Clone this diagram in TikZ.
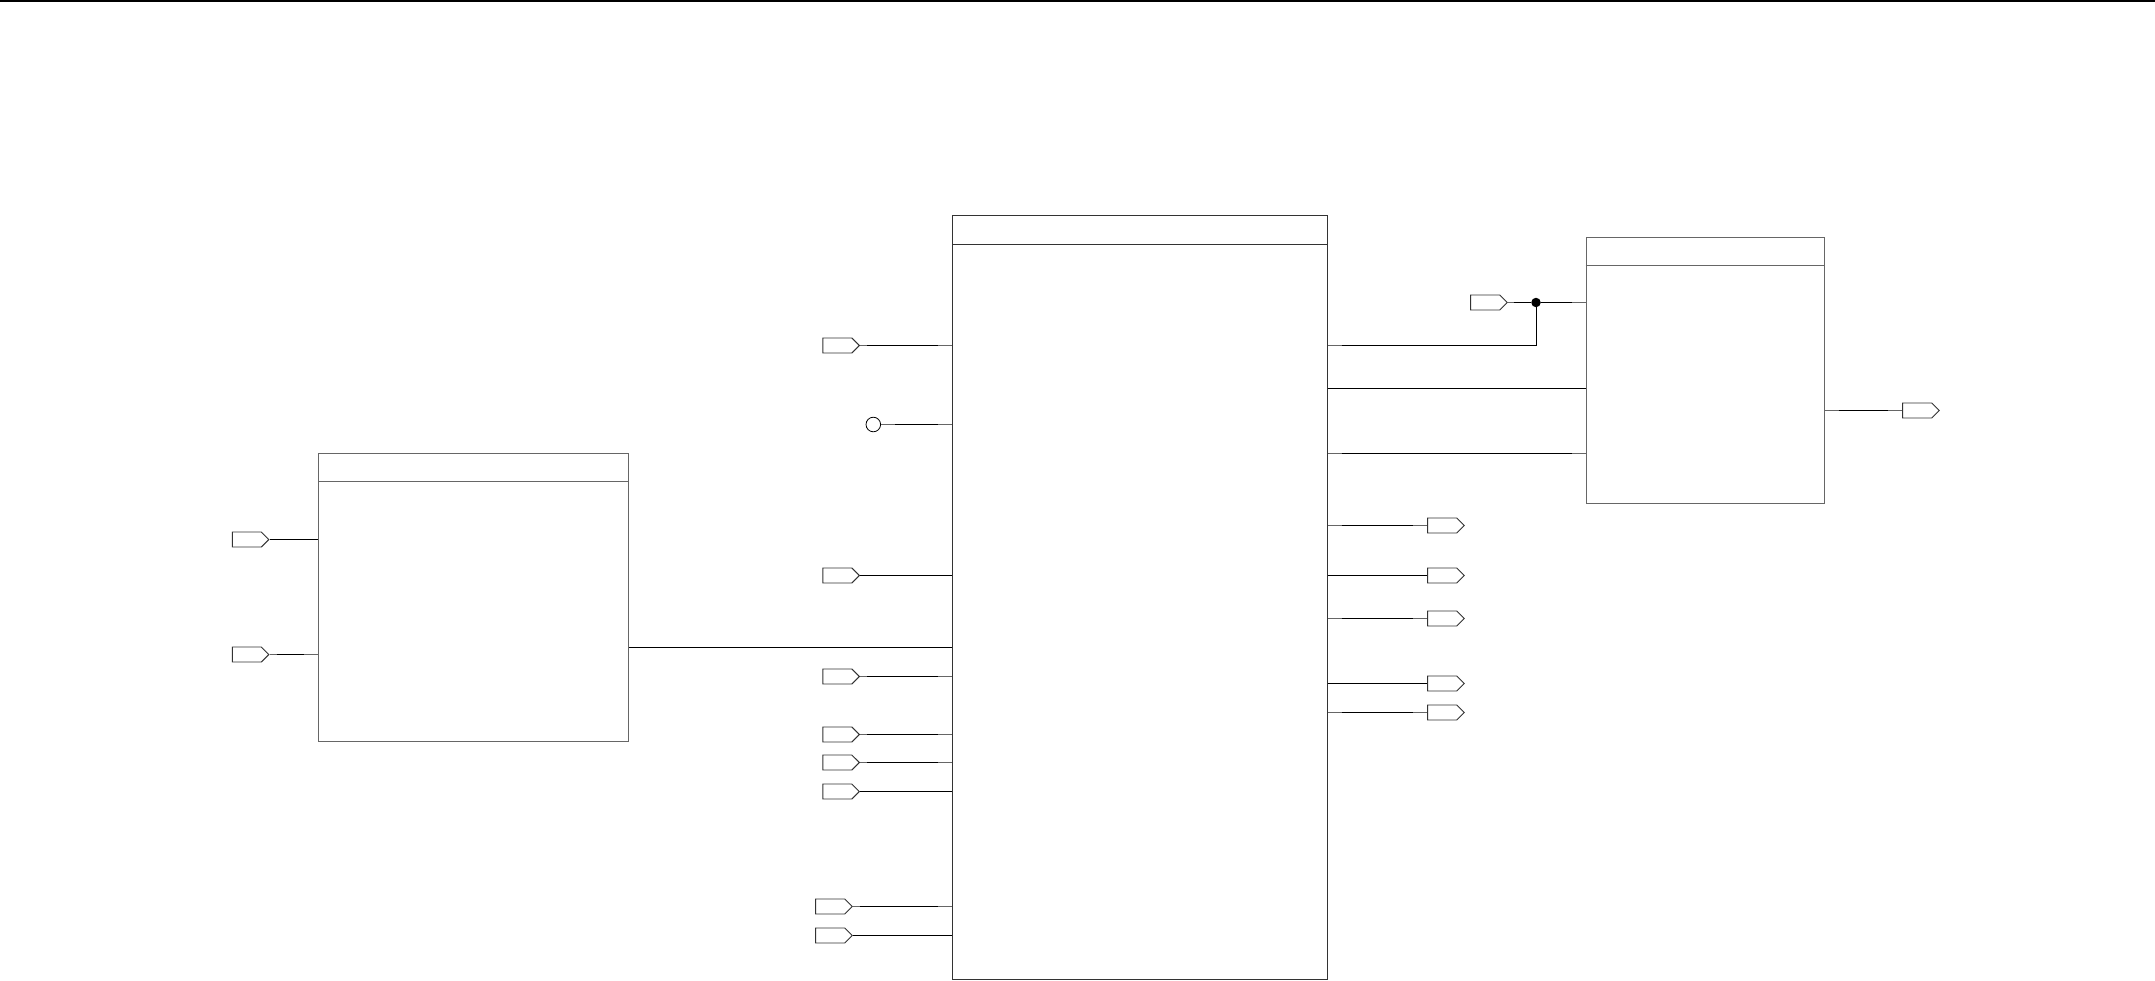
\documentclass[tikz,border=0pt]{standalone}
\usetikzlibrary{calc,shapes.symbols}

\tikzset{
  wire/.style={line width=1pt,black},
  stub/.style={line width=1pt,black!60},
  blockbox/.style={draw=black!60,line width=1pt,minimum width=#1,inner sep=0pt},
  tagbox/.style={draw=black!80,line width=0.9pt,signal,signal to=east,signal pointer angle=90,
    minimum width=36.5pt,minimum height=15pt,inner sep=0pt,anchor=east},
  opencirc/.style={draw,circle,line width=0.8pt,minimum size=14.6pt,inner sep=0pt},
  junction/.style={fill=black,circle,minimum size=9.5pt,inner sep=0pt}
}
% 両端が薄い配線
\newcommand{\stubwire}[4]{%
  \draw[stub] (#1)--(#2);
  \draw[wire,shorten <=#3,shorten >=#4] (#1)--(#2);}

\begin{document}
\begin{tikzpicture}[x=1pt,y=-1pt]
  \useasboundingbox (0,0) rectangle (2155,980);
  \coordinate (TL) at (0,1);
  \coordinate (TR) at (2155,1);
  % 上端
  \draw[line width=2pt] (TL)--(TR);
  % ブロック
  \node[blockbox=310pt,minimum height=288pt] (src) at (473.7,597.2) {};
  \node[blockbox=374.3pt,minimum height=764pt,draw=black!80] (main) at (1139.9,597.3) {};
  \node[blockbox=238pt,minimum height=266.5pt] (sink) at (1705,370.3) {};
  \draw[black!60,line width=1pt] ($(src.north west)+(0,29)$)--($(src.north east)+(0,29)$);
  \draw[black!80,line width=1pt] ($(main.north west)+(0,29.5)$)--($(main.north east)+(0,29.5)$);
  \draw[black!60,line width=1pt] ($(sink.north west)+(0,29)$)--($(sink.north east)+(0,29)$);
  % 左の入力
  \node[tagbox] (inA) at (269.5,539.5) {};
  \node[tagbox] (inB) at (269.5,654.5) {};
  \draw[wire] (inA.east)--(inA.east -| src.west);
  \stubwire{inB.east}{inB.east -| src.west}{7pt}{14pt}
  \draw[wire] (src.east |- 0,647.5)--(main.west |- 0,647.5);
  % 中央の入力
  \node[tagbox] (inC) at (860,345.5) {};
  \node[opencirc] (inD) at (873.3,424.5) {};
  \node[tagbox] (inE) at (860,575.5) {};
  \node[tagbox] (inF) at (860,676.5) {};
  \node[tagbox] (inG) at (860,734.5) {};
  \node[tagbox] (inH) at (860,762.5) {};
  \node[tagbox] (inI) at (860,791.5) {};
  \node[tagbox] (inJ) at (852.8,906.5) {};
  \node[tagbox] (inK) at (852.8,935.5) {};
  \stubwire{inC.east}{inC.east -| main.west}{7pt}{14pt}
  \stubwire{inD.east}{inD.east -| main.west}{14pt}{14pt}
  \draw[wire] (inE.east)--(inE.east -| main.west);
  \stubwire{inF.east}{inF.east -| main.west}{7pt}{14pt}
  \stubwire{inG.east}{inG.east -| main.west}{7pt}{14pt}
  \stubwire{inH.east}{inH.east -| main.west}{7pt}{14pt}
  \draw[wire] (inI.east)--(inI.east -| main.west);
  \stubwire{inJ.east}{inJ.east -| main.west}{7pt}{14pt}
  \draw[wire] (inK.east)--(inK.east -| main.west);
  % 中央の出力
  \node[tagbox] (outA) at (1464.8,525.5) {};
  \node[tagbox] (outB) at (1464.8,575.5) {};
  \node[tagbox] (outC) at (1464.8,618.5) {};
  \node[tagbox] (outD) at (1464.8,683.5) {};
  \node[tagbox] (outE) at (1464.8,712.5) {};
  \stubwire{main.east |- outA.west}{outA.west}{14pt}{14pt}
  \draw[wire] (main.east |- outB.west)--(outB.west);
  \stubwire{main.east |- outC.west}{outC.west}{14pt}{14pt}
  \draw[wire] (main.east |- outD.west)--(outD.west);
  \stubwire{main.east |- outE.west}{outE.west}{14pt}{14pt}
  % 右のブロック
  \node[tagbox] (inL) at (1507.8,302.5) {};
  \node[junction] (jn) at (1536,302.5) {};
  \coordinate (qA) at (main.east |- 0,345.5);
  \stubwire{inL.east}{jn}{6pt}{0pt}
  \stubwire{jn}{jn -| sink.west}{0pt}{14pt}
  \draw[stub] (qA)--++(14,0);
  \draw[wire,shorten <=14pt] (qA)-|(jn);
  \draw[wire] (main.east |- 0,388.5)--(sink.west |- 0,388.5);
  \stubwire{main.east |- 0,453.5}{sink.west |- 0,453.5}{14pt}{14pt}
  \node[tagbox] (outF) at (1939.8,410.5) {};
  \stubwire{sink.east |- outF.west}{outF.west}{14pt}{14pt}
\end{tikzpicture}
\end{document}
